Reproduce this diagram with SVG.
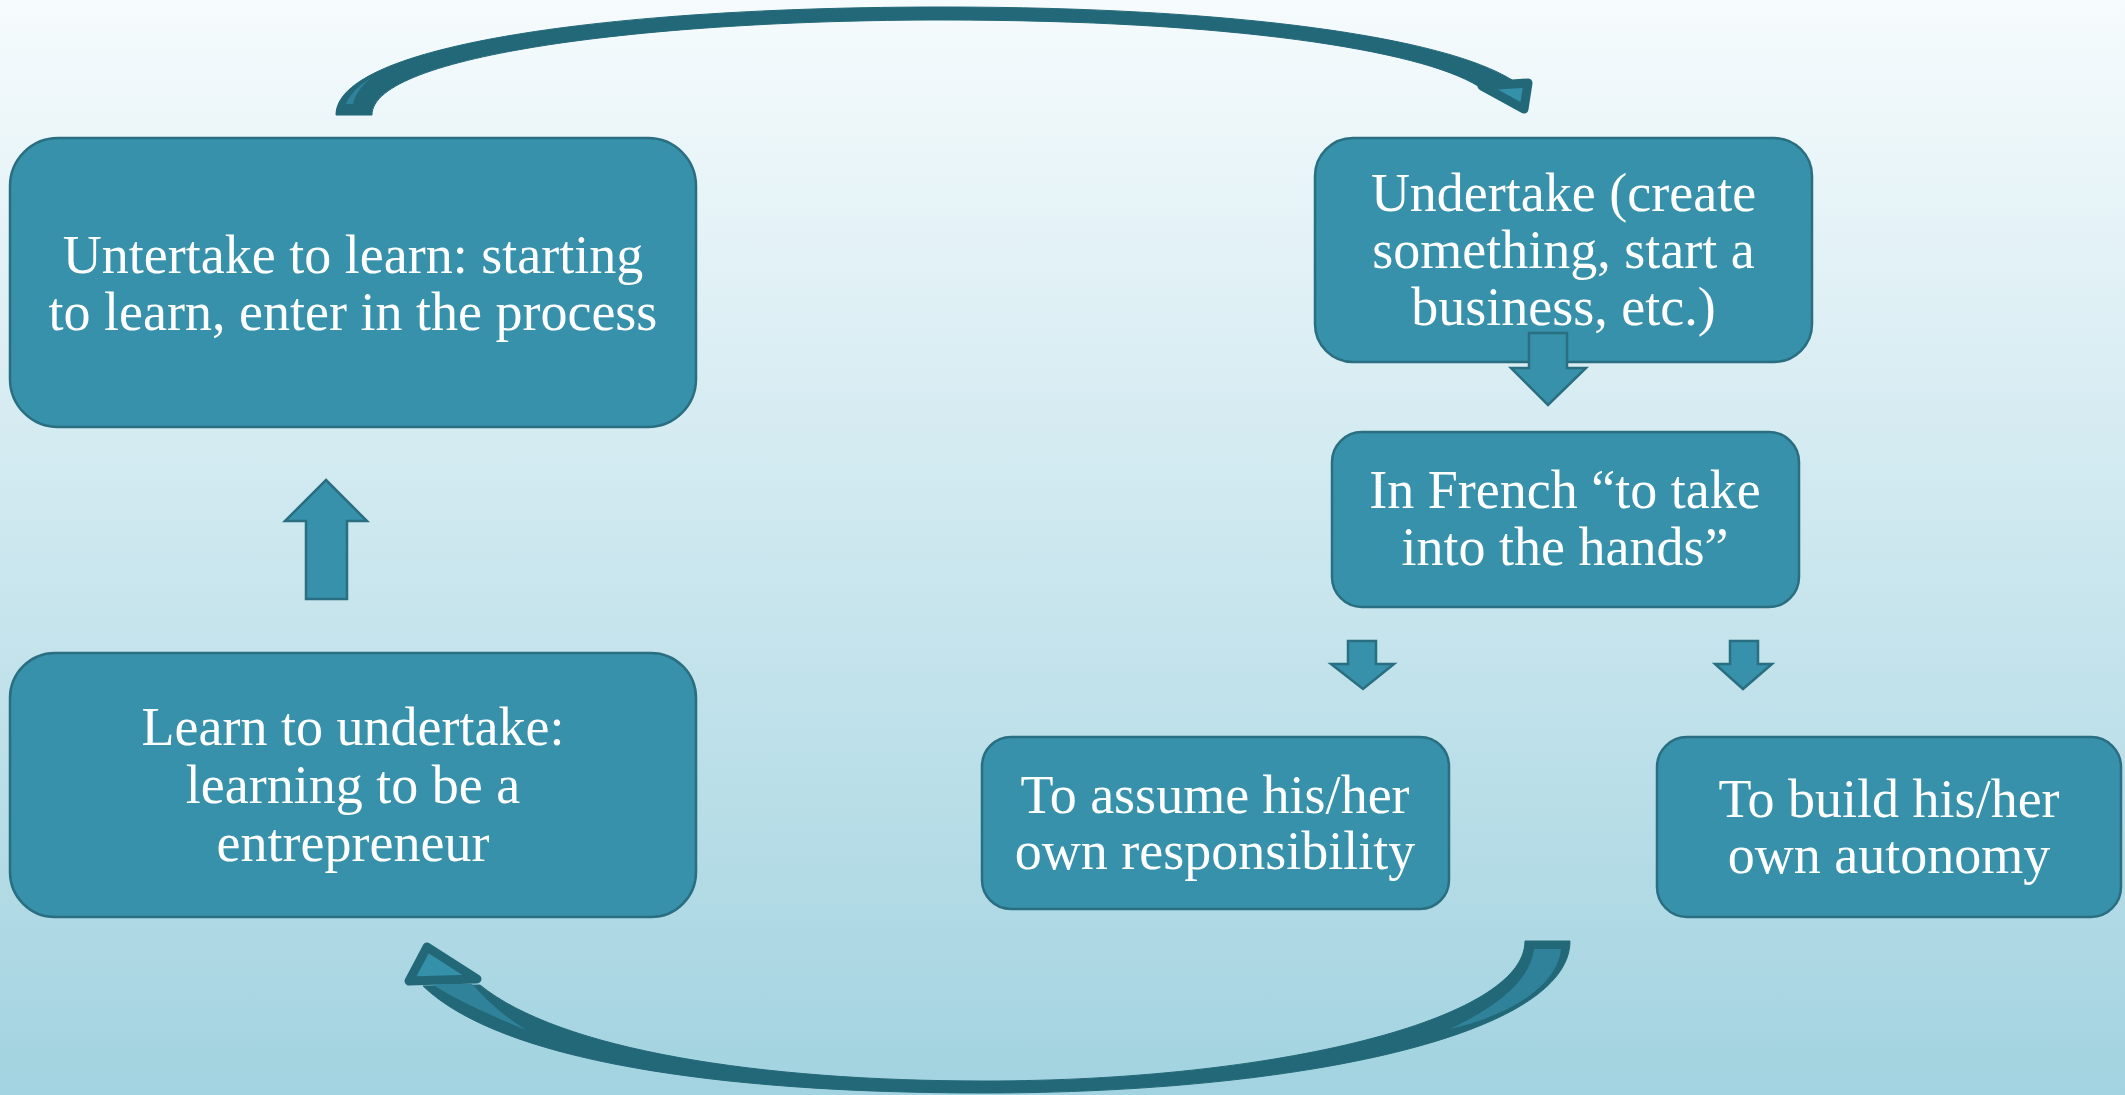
<svg xmlns="http://www.w3.org/2000/svg" width="2125" height="1095" viewBox="0 0 2125 1095">
<defs>
<linearGradient id="bg" x1="0" y1="0" x2="0" y2="1">
<stop offset="0" stop-color="#f6fbfd"/>
<stop offset="1" stop-color="#a2d3e0"/>
</linearGradient>
<style>
.box{fill:#3791ab;stroke:#2a6e81;stroke-width:2.5}
.blk{fill:#3791ab;stroke:#2a6e81;stroke-width:2.5;stroke-linejoin:miter}
.band{fill:#236878;stroke:#236878;stroke-width:1;stroke-linejoin:round}
.head{fill:#3590aa;stroke:#236878;stroke-width:9;stroke-linejoin:round}
.sliver{fill:#2f8299}
.t{font-family:"Liberation Serif","Times New Roman",serif;font-size:54px;fill:#ffffff;text-anchor:middle}
</style>
</defs>
<rect x="0" y="0" width="2125" height="1095" fill="url(#bg)"/>

<g id="connectors">
<g id="arc-top">
<path class="band" d="M336,115 C336,45 610,7 942,7 C1240,7 1445,38 1512,80 L1478,86 C1420,50 1230,20 942,20 C650,20 372,55 372,115 Z"/>
<path class="sliver" d="M346,104 L353,104 C355,95 361,86 371,78 C359,85 349,95 346,104 Z"/>
<polygon class="head" points="1482,86 1528,83 1524,109"/>
</g>
<g id="arc-bottom">
<path class="band" d="M1570,941 C1570,1035 1300,1093 984,1093 C715,1093 500,1060 423,986 L480,985 C560,1050 760,1081 984,1081 C1275,1081 1525,1020 1525,941 Z"/>
<path class="sliver" d="M1534,949 L1561,949 C1557,990 1500,1018 1450,1029 C1500,1005 1530,980 1534,949 Z"/>
<polygon class="head" points="427,947 409,981 477,979"/>
<path class="sliver" d="M432,984 L472,984 C490,1004 506,1017 526,1030 C490,1015 456,1000 432,984 Z"/>
</g>
<polygon id="arrow-up" class="blk" points="326,480 367,521 347,521 347,599 306,599 306,521 285,521"/>
</g>

<g id="node-untertake">
<rect class="box" x="10" y="138" width="686" height="289" rx="48" ry="48"/>
<text class="t" x="353" y="273">Untertake to learn: starting</text>
<text class="t" x="353" y="330">to learn, enter in the process</text>
</g>

<g id="node-learn">
<rect class="box" x="10" y="653" width="686" height="264" rx="45" ry="45"/>
<text class="t" x="353" y="745">Learn to undertake:</text>
<text class="t" x="353" y="803">learning to be a</text>
<text class="t" x="353" y="861">entrepreneur</text>
</g>

<g id="node-undertake">
<rect class="box" x="1315" y="138" width="497" height="224" rx="38" ry="38"/>
<text class="t" x="1563.5" y="211">Undertake (create</text>
<text class="t" x="1563.5" y="268">something, start a</text>
<text class="t" x="1563.5" y="325">business, etc.)</text>
</g>

<g id="arrow-down-1">
<polygon class="blk" points="1529,333 1567,333 1567,368 1586,368 1548,405 1511,368 1529,368"/>
</g>

<g id="node-french">
<rect class="box" x="1332" y="432" width="467" height="175" rx="30" ry="30"/>
<text class="t" x="1565" y="508">In French “to take</text>
<text class="t" x="1565" y="565">into the hands”</text>
</g>

<g id="arrow-down-2">
<polygon class="blk" points="1348,641 1376,641 1376,664 1394,664 1363,689 1331,664 1348,664"/>
</g>
<g id="arrow-down-3">
<polygon class="blk" points="1730,641 1758,641 1758,664 1772,664 1743,689 1715,664 1730,664"/>
</g>

<g id="node-assume">
<rect class="box" x="982" y="737" width="467" height="172" rx="29" ry="29"/>
<text class="t" x="1215" y="813">To assume his/her</text>
<text class="t" x="1215" y="869">own responsibility</text>
</g>

<g id="node-build">
<rect class="box" x="1657" y="737" width="464" height="180" rx="30" ry="30"/>
<text class="t" x="1889" y="817">To build his/her</text>
<text class="t" x="1889" y="873">own autonomy</text>
</g>
</svg>
